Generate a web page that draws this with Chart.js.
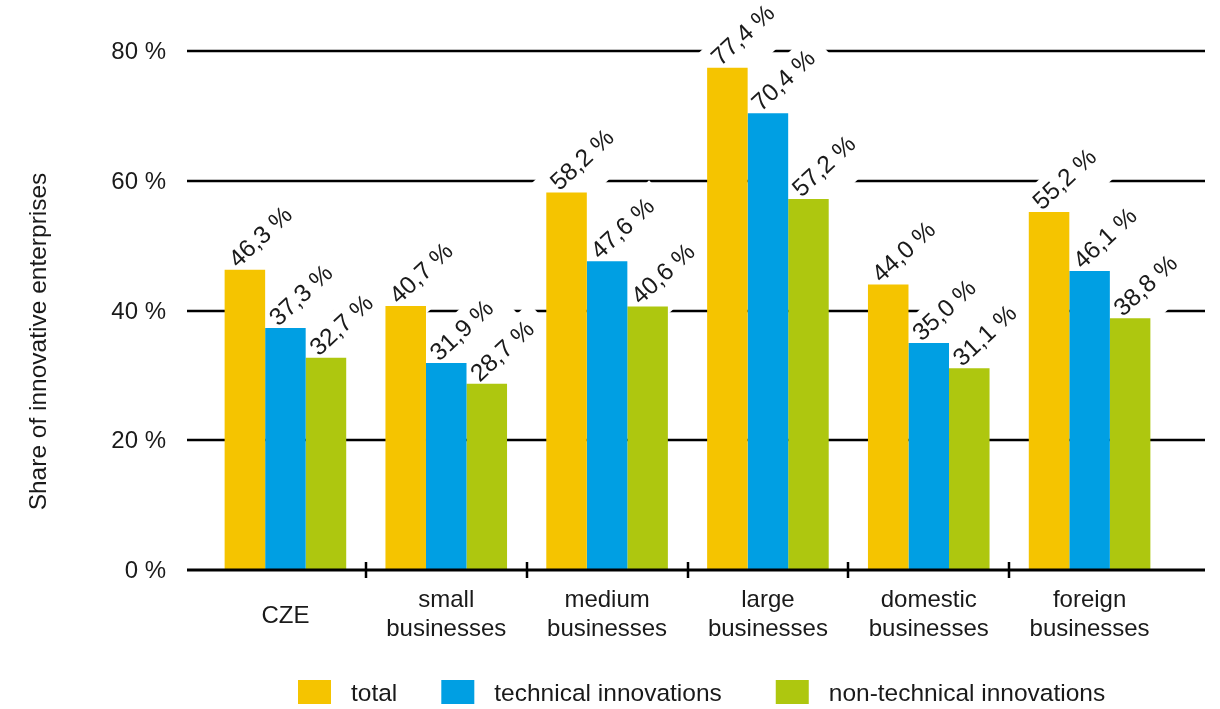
<!DOCTYPE html>
<html>
<head>
<meta charset="utf-8">
<title>Share of innovative enterprises</title>
<script src="https://cdn.jsdelivr.net/npm/chart.js@4.4.0/dist/chart.umd.min.js"></script>
<style>
  html, body { margin: 0; padding: 0; background: #fff; }
</style>
</head>
<body>
<canvas id="myChart" width="1220" height="709"></canvas>
<script>
// --- data ---
const categories = [
    ['CZE'],
    ['small', 'businesses'],
    ['medium', 'businesses'],
    ['large', 'businesses'],
    ['domestic', 'businesses'],
    ['foreign', 'businesses']
];
const totalValues = [46.3, 40.7, 58.2, 77.4, 44.0, 55.2];
const technicalValues = [37.3, 31.9, 47.6, 70.4, 35.0, 46.1];
const nonTechnicalValues = [32.7, 28.7, 40.6, 57.2, 31.1, 38.8];
const seriesNames = ['total', 'technical innovations', 'non-technical innovations'];
const yTicks = [0, 20, 40, 60, 80];
const yTitle = 'Share of innovative enterprises';

const colors = ['#f5c400', '#009fe3', '#aec70f'];
const FONT = '"Liberation Sans", Arial, Helvetica, sans-serif';
const ANGLE = -43 * Math.PI / 180;
const TEXT = '#1a1a1a';

function fmt(v) {
    return v.toFixed(1).replace('.', ',') + ' %';
}

// box round a rotated value label (rotated coords, baseline at y=0)
function labelBox(ctx, text) {
    const w = ctx.measureText(text).width;
    return { x: -16, y: -25, w: w + 30, h: 50 };
}

const decorPlugin = {
    id: 'decor',
    beforeDatasetsDraw(chart) {
        const ctx = chart.ctx;
        const area = chart.chartArea;
        const ys = chart.scales.y;
        ctx.save();
        // horizontal lines, a bit wider than the category area
        ctx.strokeStyle = '#000';
        ctx.lineWidth = 2.5;
        yTicks.forEach(t => {
            if (t === 0) return;
            const py = Math.round(ys.getPixelForValue(t));
            ctx.beginPath();
            ctx.moveTo(area.left - 18, py);
            ctx.lineTo(area.right + 35, py);
            ctx.stroke();
        });
        // white boxes behind the labels (they cut the lines)
        ctx.font = '24.5px ' + FONT;
        ctx.fillStyle = '#fff';
        chart.data.datasets.forEach((ds, di) => {
            chart.getDatasetMeta(di).data.forEach((bar, i) => {
                const b = labelBox(ctx, fmt(ds.data[i]));
                ctx.save();
                ctx.translate(bar.x - 7, bar.y - 1);
                ctx.rotate(ANGLE);
                ctx.fillRect(b.x, b.y, b.w, b.h);
                ctx.restore();
            });
        });
        ctx.restore();
    },
    afterDatasetsDraw(chart) {
        const ctx = chart.ctx;
        const area = chart.chartArea;
        const ys = chart.scales.y;
        const xs = chart.scales.x;
        const y0 = Math.round(ys.getPixelForValue(0));
        ctx.save();

        // x axis line + ticks between categories
        ctx.strokeStyle = '#000';
        ctx.lineWidth = 3;
        ctx.beginPath();
        ctx.moveTo(area.left - 18, y0);
        ctx.lineTo(area.right + 35, y0);
        ctx.stroke();
        ctx.lineWidth = 2.5;
        for (let i = 1; i < categories.length; i++) {
            const px = Math.round((xs.getPixelForValue(i - 1) + xs.getPixelForValue(i)) / 2);
            ctx.beginPath();
            ctx.moveTo(px, y0 - 8);
            ctx.lineTo(px, y0 + 8);
            ctx.stroke();
        }

        // value labels
        ctx.fillStyle = TEXT;
        ctx.font = '24.5px ' + FONT;
        ctx.textAlign = 'left';
        ctx.textBaseline = 'alphabetic';
        chart.data.datasets.forEach((ds, di) => {
            chart.getDatasetMeta(di).data.forEach((bar, i) => {
                ctx.save();
                ctx.translate(bar.x - 7, bar.y - 1);
                ctx.rotate(ANGLE);
                ctx.fillText(fmt(ds.data[i]), 0, 0);
                ctx.restore();
            });
        });

        // y tick labels
        ctx.font = '24px ' + FONT;
        ctx.textAlign = 'right';
        yTicks.forEach(t => {
            ctx.fillText(t + ' %', area.left - 39, ys.getPixelForValue(t) + 8);
        });

        // y title
        ctx.save();
        ctx.font = '24.5px ' + FONT;
        ctx.textAlign = 'center';
        ctx.translate(46, (area.top + area.bottom) / 2 + 31);
        ctx.rotate(-Math.PI / 2);
        ctx.fillText(yTitle, 0, 0);
        ctx.restore();

        // category labels
        ctx.textAlign = 'center';
        ctx.font = '24px ' + FONT;
        categories.forEach((lines, i) => {
            const px = xs.getPixelForValue(i);
            if (lines.length === 1) {
                ctx.fillText(lines[0], px, y0 + 53);
            } else {
                ctx.fillText(lines[0], px, y0 + 37);
                ctx.fillText(lines[1], px, y0 + 66);
            }
        });

        // legend
        ctx.font = '24.5px ' + FONT;
        ctx.textAlign = 'left';
        const boxW = 33, boxH = 24, gapText = 20;
        const gaps = [44, 54];
        let lx = area.left + 93;
        const ly = y0 + 110;
        seriesNames.forEach((n, i) => {
            ctx.fillStyle = colors[i];
            ctx.fillRect(lx, ly, boxW, boxH);
            ctx.fillStyle = TEXT;
            ctx.fillText(n, lx + boxW + gapText, ly + 21);
            lx += boxW + gapText + ctx.measureText(n).width + (gaps[i] || 0);
        });

        ctx.restore();
    }
};

const ctx = document.getElementById('myChart').getContext('2d');
const myChart = new Chart(ctx, {
    type: 'bar',
    data: {
        labels: categories,
        datasets: [
            { label: seriesNames[0], data: totalValues, backgroundColor: colors[0] },
            { label: seriesNames[1], data: technicalValues, backgroundColor: colors[1] },
            { label: seriesNames[2], data: nonTechnicalValues, backgroundColor: colors[2] }
        ]
    },
    options: {
        responsive: false,
        animation: false,
        devicePixelRatio: 1,
        layout: { padding: { top: 51, right: 50, left: 0, bottom: 0 } },
        datasets: {
            bar: { categoryPercentage: 0.756, barPercentage: 1.0, borderWidth: 0 }
        },
        plugins: {
            legend: { display: false },
            tooltip: { enabled: false }
        },
        scales: {
            x: {
                grid: { display: false },
                border: { display: false },
                ticks: { display: false },
                afterFit: scale => { scale.height = 139; }
            },
            y: {
                min: 0,
                max: 80,
                grid: { display: false },
                border: { display: false },
                ticks: { display: false, stepSize: 20 },
                afterFit: scale => { scale.width = 205; }
            }
        }
    },
    plugins: [decorPlugin]
});
</script>
</body>
</html>
